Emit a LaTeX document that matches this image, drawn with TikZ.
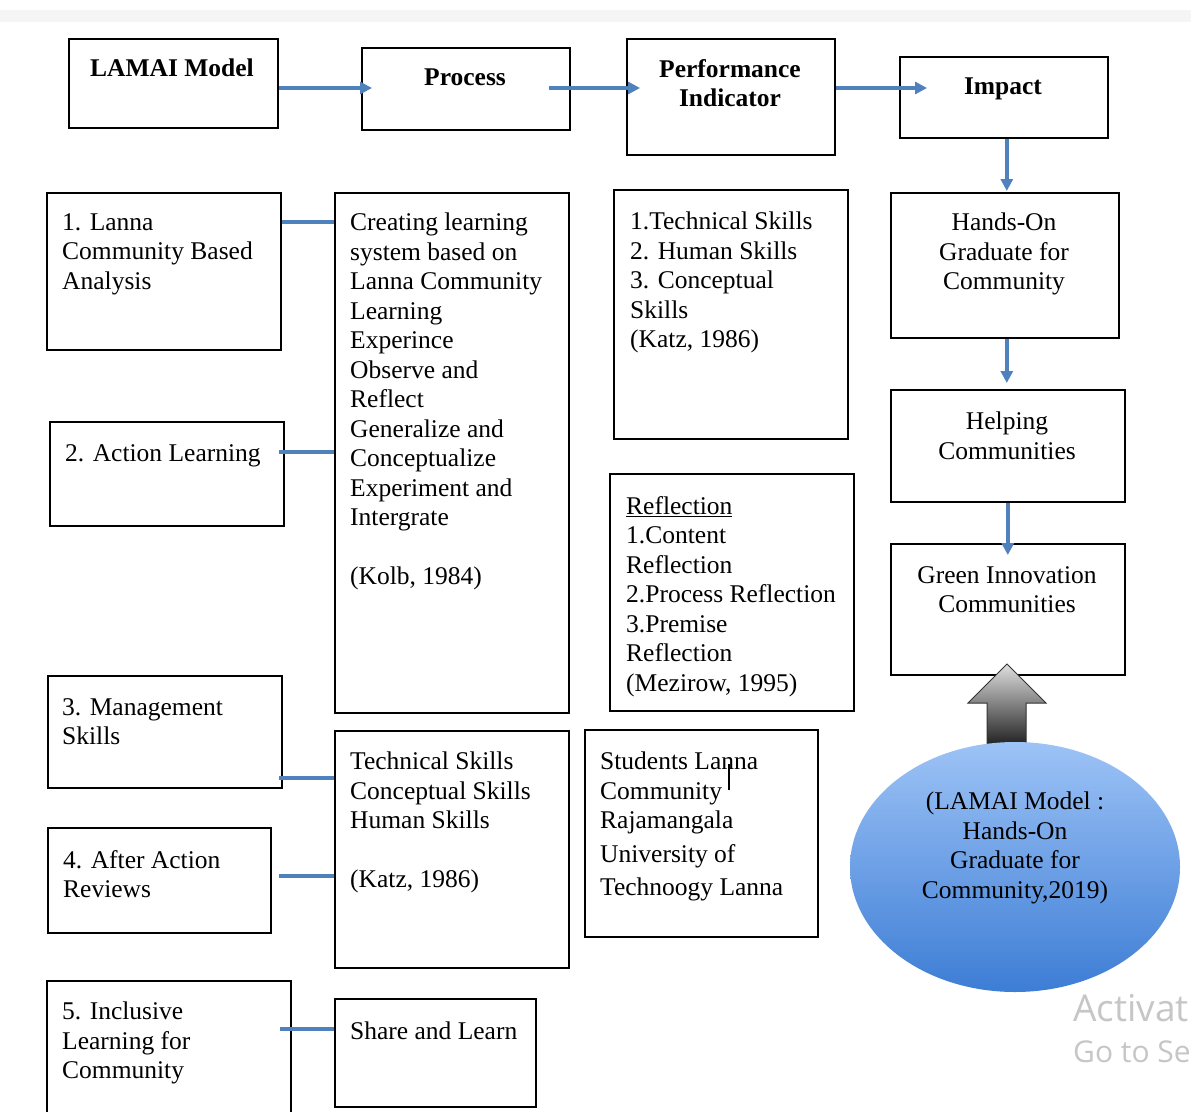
\documentclass[tikz,border=0pt]{standalone}
\usepackage{fontspec}
\setmainfont{Liberation Serif}
\newfontfamily\wmfont{Open Sans}
\usetikzlibrary{arrows.meta,shapes.geometric}
\definecolor{linkblue}{HTML}{4F81BD}
\definecolor{ovaltop}{HTML}{9DC3F6}
\definecolor{ovalbot}{HTML}{3D7DD5}
\tikzset{
	box/.style={draw, line width=1.6pt, inner sep=0pt, anchor=north west},
	txt/.style={inner sep=0pt, anchor=north west, align=left, font=\fontsize{25.5}{29.5}\selectfont},
	ctxt/.style={txt, anchor=north, align=center},
	head/.style={ctxt, font=\bfseries\fontsize{25.5}{29.5}\selectfont},
	link/.style={draw=linkblue, line width=3.5pt},
	flow/.style={link, -{Triangle[length=12pt,width=12pt]}},
}
\begin{document}
\begin{tikzpicture}[x=1pt,y=-1pt]
		\clip (0,0) rectangle (1191,1111);
		\fill[white] (0,0) rectangle (1191,1111);
		\fill[gray!8] (0,10) rectangle (1191,22);
		% top row
		\node[box, minimum width=209pt, minimum height=89pt] (lamai) at (68,38) {};
		\node[box, minimum width=208pt, minimum height=82pt] (proc) at (361,47) {};
		\node[box, minimum width=208pt, minimum height=116pt] (perf) at (626,38) {};
		\node[box, minimum width=208pt, minimum height=81pt] (impact) at (899,56) {};
		\node[head] (lamaiT) at (172,59) {LAMAI Model};
		\node[head] (procT) at (465,69) {Process};
		\node[head] (perfT) at (730,59) {Performance\\Indicator};
		\node[head] (impactT) at (1003,78) {Impact};
		\draw[flow, shorten >=-11pt] (lamai.east |- 0,88) -- (proc.west |- 0,88);
		\draw[flow, shorten <=-22pt, shorten >=-14pt] (proc.east |- 0,88) -- (perf.west |- 0,88);
		\draw[flow, shorten >=-28pt] (perf.east |- 0,88) -- (impact.west |- 0,88);
		% left column
		\node[box, minimum width=234pt, minimum height=157pt] (lanna) at (46,192) {};
		\node[box, minimum width=234pt, minimum height=104pt] (action) at (49,421) {};
		\node[box, minimum width=234pt, minimum height=112pt] (mgmt) at (47,675) {};
		\node[box, minimum width=223pt, minimum height=105pt] (aar) at (47,827) {};
		\node[box, minimum width=244pt, minimum height=150pt] (incl) at (46,980) {};
		\node[txt] (lannaT) at (62,213) {1. Lanna\\Community Based\\Analysis};
		\node[txt] (actionT) at (65,444) {2. Action Learning};
		\node[txt] (mgmtT) at (62,698) {3. Management\\Skills};
		\node[txt] (aarT) at (63,850) {4. After Action\\Reviews};
		\node[txt] (inclT) at (62,1002) {5. Inclusive\\Learning for\\Community};
		% process column
		\node[box, minimum width=234pt, minimum height=520pt] (kolb) at (334,192) {};
		\node[box, minimum width=234pt, minimum height=237pt] (katz) at (334,730) {};
		\node[box, minimum width=201pt, minimum height=108pt] (share) at (334,998) {};
		\node[txt] (kolbT) at (350,213) {Creating learning\\system based on\\Lanna Community\\Learning\\Experince\\Observe and\\Reflect\\Generalize and\\Conceptualize\\Experiment and\\Intergrate\\[29.5pt](Kolb, 1984)};
		\node[txt] (katzT) at (350,752) {Technical Skills\\Conceptual Skills\\Human Skills\\[29.5pt](Katz, 1986)};
		\node[txt] (shareT) at (350,1022) {Share and Learn};
		\draw[link] (lanna.east |- 0,222) -- (kolb.west |- 0,222);
		\draw[link, shorten <=-6pt] (action.east |- 0,452) -- (kolb.west |- 0,452);
		\draw[link, shorten <=-4pt] (mgmt.east |- 0,778) -- (katz.west |- 0,778);
		\draw[link, shorten <=7pt] (aar.east |- 0,876) -- (katz.west |- 0,876);
		\draw[link, shorten <=-12pt] (incl.east |- 0,1029) -- (share.west |- 0,1029);
		% indicator column
		\node[box, minimum width=234pt, minimum height=249pt] (skills) at (613,189) {};
		\node[box, minimum width=244pt, minimum height=237pt] (refl) at (609,473) {};
		\node[box, minimum width=233pt, minimum height=207pt] (stud) at (584,729) {};
		\node[txt] (skillsT) at (630,212) {1.Technical Skills\\2. Human Skills\\3. Conceptual\\Skills\\(Katz, 1986)};
		\node[txt] (reflT) at (626,496) {\underline{Reflection}\\1.Content\\Reflection\\2.Process Reflection\\3.Premise\\Reflection\\(Mezirow, 1995)};
		\node[txt] (studT) at (600,752) {Students Lanna\\Community\\Rajamangala\\[4pt]University of\\[4pt]Technoogy Lanna};
		\draw[line width=1.2pt] (729,764) -- (729,790);
		% impact column
		\node[box, minimum width=228pt, minimum height=145pt] (hands) at (890,192) {};
		\node[box, minimum width=234pt, minimum height=112pt] (help) at (890,389) {};
		\node[box, minimum width=234pt, minimum height=131pt] (green) at (890,543) {};
		\node[ctxt] (handsT) at (1004,213) {Hands-On\\Graduate for\\Community};
		\node[ctxt] (helpT) at (1007,412) {Helping\\Communities};
		\node[ctxt] (greenT) at (1007,566) {Green Innovation\\Communities};
		\draw[flow, shorten >=1pt] ([xshift=3pt]impact.south) -- ([xshift=3pt]impact.south |- hands.north);
		\draw[flow, shorten >=6pt] ([xshift=2pt]hands.south) -- ([xshift=2pt]hands.south |- help.north);
		\draw[flow, shorten >=-12pt] (help.south) -- (green.north);
		% block arrow and oval
		\shade[top color=gray!25, bottom color=black!88, draw=black!80, line width=1pt]
			(1007,664) -- (1046,703) -- (1026,703) -- (1026,746) -- (987,746) -- (987,703) -- (968,703) -- cycle;
		\node[ellipse, minimum width=330pt, minimum height=250pt, top color=ovaltop, bottom color=ovalbot, inner sep=0pt] (oval) at (1015,867) {};
		\node[ctxt] (ovalT) at (1015,792) {(LAMAI Model :\\Hands-On\\Graduate for\\Community,2019)};
		% watermark
		\node[anchor=west, inner sep=0pt, text=gray!45, font=\wmfont\fontsize{37}{40}\selectfont] (wmA) at (1073,1008) {Activat};
		\node[anchor=west, inner sep=0pt, text=gray!45, font=\wmfont\fontsize{30}{33}\selectfont] (wmB) at (1073,1052) {Go to Se};
\end{tikzpicture}
\end{document}
